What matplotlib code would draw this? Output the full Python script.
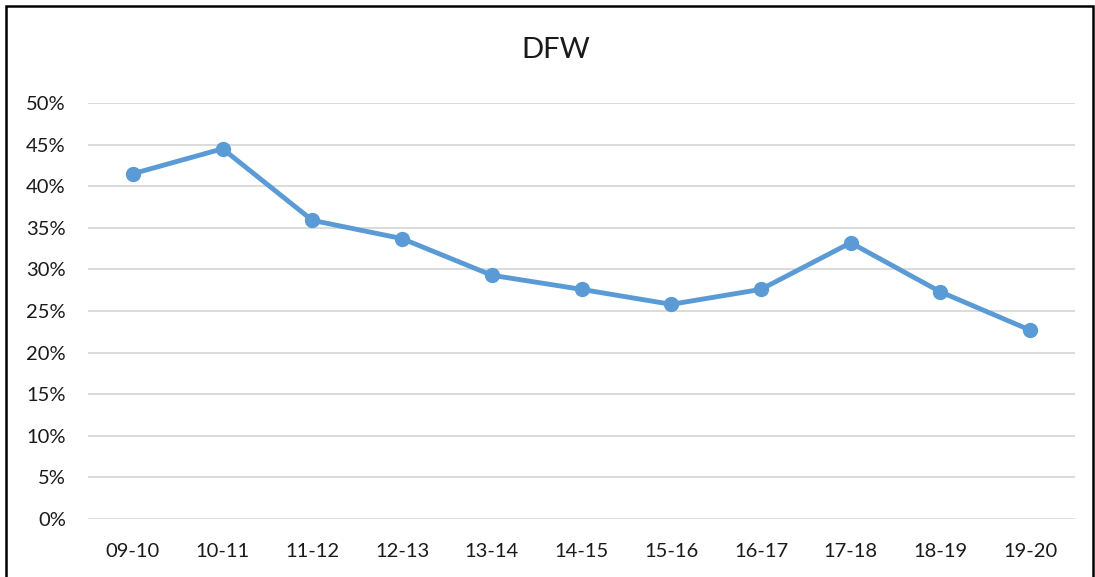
import matplotlib
matplotlib.use('Agg')
import matplotlib.pyplot as plt
from matplotlib.patches import Rectangle
from matplotlib.ticker import PercentFormatter

# data
seasons = ['09-10', '10-11', '11-12', '12-13', '13-14', '14-15',
           '15-16', '16-17', '17-18', '18-19', '19-20']
dfw = [41.5, 44.5, 35.9, 33.7, 29.3, 27.6, 25.8, 27.6, 33.2, 27.3, 22.7]

plt.rcParams['font.family'] = ['Lato', 'DejaVu Sans']

W, H = 1095, 577
fig = plt.figure(figsize=(W / 100, H / 100), dpi=100)
ax = fig.add_axes([88 / W, (H - 519) / H, (1075 - 88) / W, (519 - 103) / H])

x = list(range(len(seasons)))
ax.plot(x, dfw, color='#5B9BD5', linewidth=3.5, marker='o', markersize=10,
        solid_capstyle='round', zorder=3)

ax.set_xlim(-0.5, len(seasons) - 0.5)
ax.set_ylim(0, 50)
ax.set_yticks(range(0, 51, 5))
ax.yaxis.set_major_formatter(PercentFormatter(decimals=0))
ax.set_xticks(x)
ax.set_xticklabels(seasons)
ax.grid(axis='y', color='#D9D9D9', linewidth=1.3)
ax.set_axisbelow(True)
for s in ax.spines.values():
    s.set_visible(False)
ax.tick_params(length=0, labelsize=14.5, colors='#1a1a1a')
ax.tick_params(axis='y', pad=16)
ax.tick_params(axis='x', pad=17)

fig.text(556 / W, 1 - 50 / H, 'DFW', ha='center', va='center', fontsize=21,
         color='#1a1a1a')

# outer border
fig.patches.append(Rectangle((6 / W, -0.05), (1093 - 6) / W, 1.05 - 6 / H,
                             transform=fig.transFigure, fill=False,
                             edgecolor='black', linewidth=1.8))

fig.savefig('out.png', dpi=100)
